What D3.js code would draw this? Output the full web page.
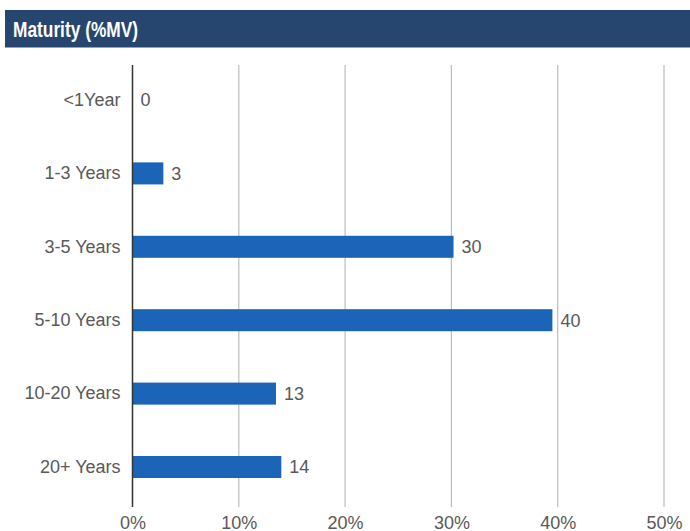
<!DOCTYPE html>
<html>
<head>
<meta charset="utf-8">
<script src="https://cdn.jsdelivr.net/npm/d3@7"></script>
<style>
  body { margin: 0; background: #fff; }
  svg { display: block; }
</style>
</head>
<body>
<div id="viz-container"></div>
<script>
// data
let categories = ["<1Year", "1-3 Years", "3-5 Years", "5-10 Years", "10-20 Years", "20+ Years"];
let values = [0, 2.9, 30.2, 39.5, 13.5, 14.0];
let valueLabels = ["0", "3", "30", "40", "13", "14"];
let tickValues = [0, 10, 20, 30, 40, 50];

let width = 690, height = 531;
let labelFont = "'Liberation Sans', Arial, sans-serif";

let viz = d3.select("#viz-container")
  .append("svg")
    .attr("width", width)
    .attr("height", height)
;

// header bar
viz.append("rect")
  .attr("x", 5)
  .attr("y", 10)
  .attr("width", width - 5)
  .attr("height", 37.5)
  .attr("fill", "#264670")
;
// no narrow font installed, so squeeze the bold title sideways
viz.append("text")
  .text("Maturity (%MV)")
    .attr("transform", "translate(13,37) scale(0.77,1)")
    .attr("fill", "#fff")
    .attr("font-family", labelFont)
    .attr("font-weight", "bold")
    .attr("font-size", 22.5)
;

let x = d3.scaleLinear().domain([0, 50]).range([132.5, 664]);
let y = d3.scaleBand().domain(categories).range([63.3, 503.7])
  .paddingInner(0.7).paddingOuter(0.35);

// gridlines
viz.selectAll(".grid").data(tickValues.slice(1)).enter()
  .append("line")
    .attr("class", "grid")
    .attr("x1", d => x(d))
    .attr("x2", d => x(d))
    .attr("y1", 65)
    .attr("y2", 507)
    .attr("stroke", "#bdbdbd")
    .attr("stroke-width", 1.2)
;

// x tick labels
let xAxis = d3.axisBottom(x).tickValues(tickValues).tickFormat(d => d + "%").tickSize(0);
let xg = viz.append("g")
  .attr("transform", "translate(0,513)")
  .call(xAxis);
xg.select(".domain").remove();
xg.selectAll("text")
  .attr("fill", "#595959")
  .attr("font-family", labelFont)
  .attr("font-size", 18)
  .attr("dy", 0)
  .attr("y", 15.5);

// bars
let groups = viz.selectAll(".datagroup").data(categories).enter()
  .append("g")
    .attr("class", "datagroup")
;
groups.append("rect")
  .attr("x", x(0))
  .attr("y", d => y(d))
  .attr("width", (d, i) => x(values[i]) - x(0))
  .attr("height", y.bandwidth())
  .attr("fill", "#1c64b8")
;
groups.append("text")
  .text((d, i) => valueLabels[i])
  .attr("x", (d, i) => x(values[i]) + 8)
  .attr("y", d => y(d) + y.bandwidth() / 2)
  .attr("dy", "0.35em")
  .attr("fill", "#595959")
  .attr("font-family", labelFont)
  .attr("font-size", 18)
;

// y axis labels
let yAxis = d3.axisLeft(y).tickSize(0).tickPadding(12);
let yg = viz.append("g")
  .attr("transform", "translate(132.5,0)")
  .call(yAxis);
yg.select(".domain").remove();
yg.selectAll("text")
  .attr("fill", "#595959")
  .attr("font-family", labelFont)
  .attr("font-size", 18);

// axis line
viz.append("line")
  .attr("x1", x(0))
  .attr("x2", x(0))
  .attr("y1", 65)
  .attr("y2", 507)
  .attr("stroke", "#333")
  .attr("stroke-width", 1.5)
;
</script>
</body>
</html>
